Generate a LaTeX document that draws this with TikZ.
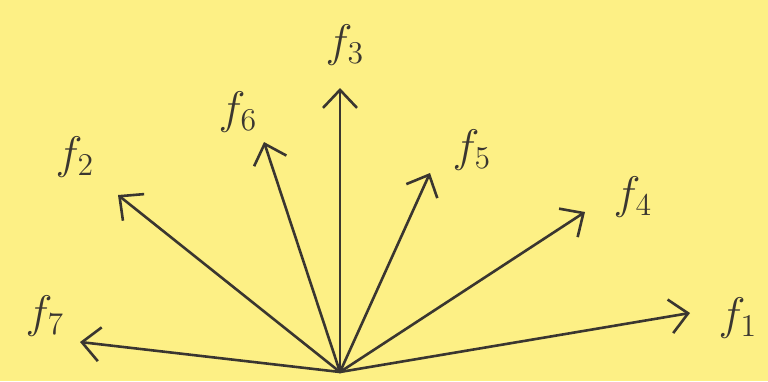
\documentclass[tikz,border=0pt]{standalone}
\usetikzlibrary{arrows.meta}
\definecolor{notepad}{HTML}{FDF085}
\definecolor{pencil}{HTML}{3A3630}
\tikzset{
  vec/.style={draw=pencil, line width=2.6pt, line cap=round, -{Straight Barb[length=18pt, width=34pt, line width=2.6pt]}},
  lbl/.style={text=pencil, inner sep=0pt, font=\huge}
}
\newcommand{\flabel}[1]{\scalebox{2.2}{$f_{#1}$}}
\begin{document}
\begin{tikzpicture}[x=1pt, y=-1pt]
\fill[notepad] (0,0) rectangle (768,381);
\useasboundingbox (0,0) rectangle (768,381);
\coordinate (o) at (340,372);
\coordinate (t1) at (690,313);
\coordinate (t2) at (118,195);
\coordinate (t3) at (340,88);
\coordinate (t4) at (585,212);
\coordinate (t5) at (430,173);
\coordinate (t6) at (264,142);
\coordinate (t7) at (80,342);
\draw[vec] (o) -- (t1);
\draw[vec] (o) -- (t2);
\draw[vec] (o) -- (t3);
\draw[vec] (o) -- (t4);
\draw[vec] (o) -- (t5);
\draw[vec] (o) -- (t6);
\draw[vec] (o) -- (t7);
\node[lbl] (f1) at (738,318) {\flabel{1}};
\node[lbl] (f2) at (75,157) {\flabel{2}};
\node[lbl] (f3) at (345,45) {\flabel{3}};
\node[lbl] (f4) at (633,197) {\flabel{4}};
\node[lbl] (f5) at (472,150) {\flabel{5}};
\node[lbl] (f6) at (238,112) {\flabel{6}};
\node[lbl] (f7) at (45,316) {\flabel{7}};
\end{tikzpicture}
\end{document}
